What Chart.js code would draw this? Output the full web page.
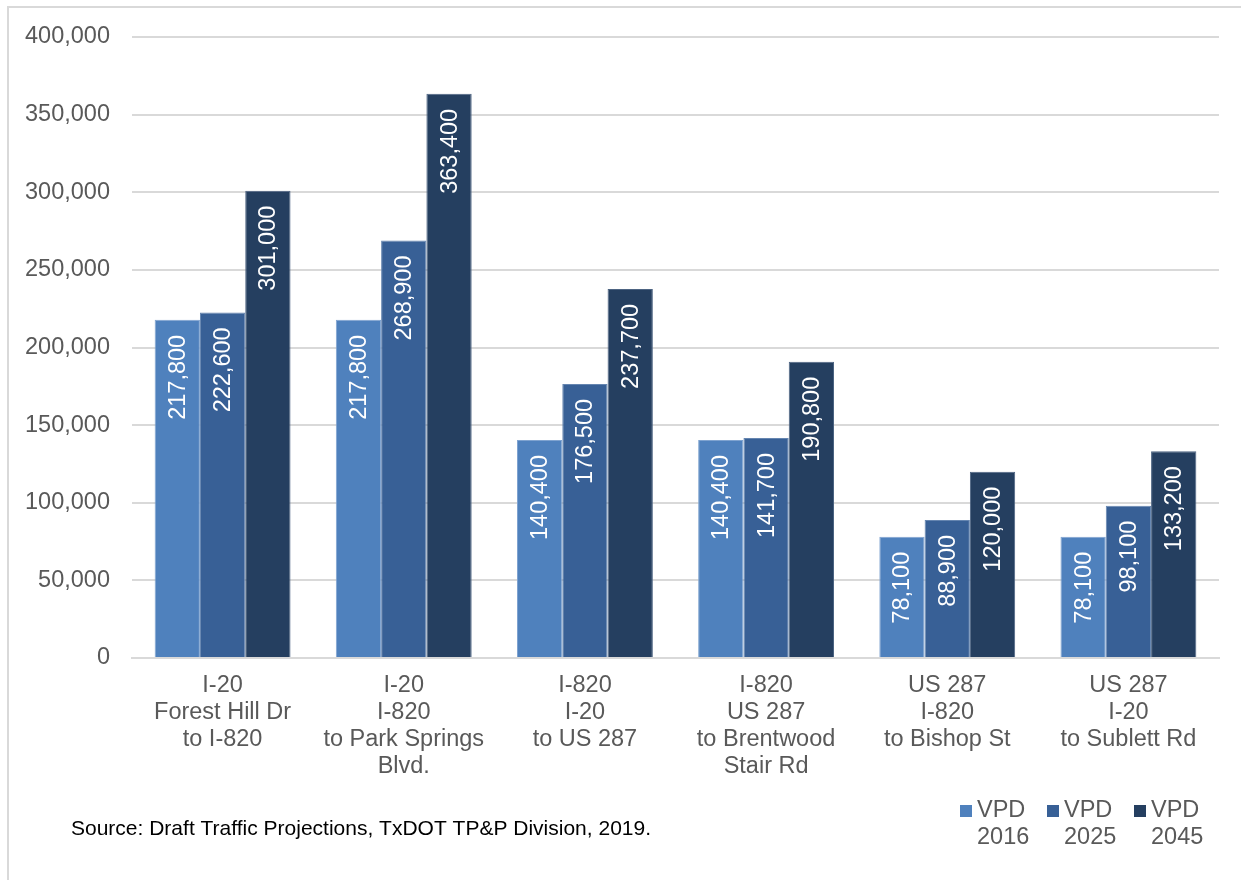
<!DOCTYPE html>
<html>
<head>
<meta charset="utf-8">
<script src="https://cdn.jsdelivr.net/npm/chart.js@4.4.0/dist/chart.umd.min.js"></script>
<style>
  html, body { margin: 0; padding: 0; background: #fff; }
  #wrap { width: 1241px; height: 880px; position: relative; }
</style>
</head>
<body>
<div id="wrap"><canvas id="barChart" width="1241" height="880"></canvas></div>
<script>
const categories = [
  ['I-20', 'Forest Hill Dr', 'to I-820'],
  ['I-20', 'I-820', 'to Park Springs', 'Blvd.'],
  ['I-820', 'I-20', 'to US 287'],
  ['I-820', 'US 287', 'to Brentwood', 'Stair Rd'],
  ['US 287', 'I-820', 'to Bishop St'],
  ['US 287', 'I-20', 'to Sublett Rd']
];
const vpd2016 = [217800, 217800, 140400, 140400, 78100, 78100];
const vpd2025 = [222600, 268900, 176500, 141700, 88900, 98100];
const vpd2045 = [301000, 363400, 237700, 190800, 120000, 133200];
const seriesNames = [['VPD', '2016'], ['VPD', '2025'], ['VPD', '2045']];
const sourceNote = 'Source: Draft Traffic Projections, TxDOT TP&P Division, 2019.';

const colors = ['#4f81bd', '#386096', '#253f60'];
const edges = ['#7fa3d0', '#6585b0', '#4d6482'];
const fontFamily = '"Liberation Sans", Arial, sans-serif';
const fontSize = 23.5;

// white rotated labels inside top of each bar
const barLabels = {
  id: 'barLabels',
  afterDatasetsDraw(chart) {
    const ctx = chart.ctx;
    ctx.save();
    ctx.fillStyle = '#ffffff';
    ctx.font = fontSize + 'px ' + fontFamily;
    ctx.textAlign = 'right';
    ctx.textBaseline = 'middle';
    chart.data.datasets.forEach((ds, i) => {
      chart.getDatasetMeta(i).data.forEach((bar, j) => {
        ctx.save();
        ctx.translate(bar.x, bar.y + 15);
        ctx.rotate(-Math.PI / 2);
        ctx.fillText(ds.data[j].toLocaleString('en-US'), 0, 1);
        ctx.restore();
      });
    });
    ctx.restore();
  }
};

// outer frame, legend and source note
const extras = {
  id: 'extras',
  beforeDraw(chart) {
    const ctx = chart.ctx;
    ctx.save();
    ctx.strokeStyle = '#d9d9d9';
    ctx.lineWidth = 2;
    ctx.strokeRect(8, 7, 1250, 900);
    ctx.restore();
  },
  afterDraw(chart) {
    const ctx = chart.ctx;
    ctx.save();
    ctx.font = '21px ' + fontFamily;
    ctx.fillStyle = '#000000';
    ctx.textBaseline = 'middle';
    ctx.fillText(sourceNote, 71, 829);

    ctx.font = fontSize + 'px ' + fontFamily;
    const startX = [960, 1047, 1134];
    seriesNames.forEach((name, i) => {
      ctx.fillStyle = colors[i];
      ctx.fillRect(startX[i], 805, 12, 12);
      ctx.fillStyle = '#595959';
      ctx.textAlign = 'left';
      ctx.fillText(name[0], startX[i] + 17, 811);
      ctx.fillText(name[1], startX[i] + 17, 838);
    });
    ctx.restore();
  }
};

const chartElement = document.getElementById('barChart').getContext('2d');

const barChart = new Chart(chartElement, {
  type: 'bar',
  data: {
    labels: categories,
    datasets: [
      { label: 'VPD 2016', data: vpd2016, backgroundColor: colors[0], borderColor: edges[0], borderWidth: 1 },
      { label: 'VPD 2025', data: vpd2025, backgroundColor: colors[1], borderColor: edges[1], borderWidth: 1 },
      { label: 'VPD 2045', data: vpd2045, backgroundColor: colors[2], borderColor: edges[2], borderWidth: 1 }
    ]
  },
  options: {
    responsive: false,
    animation: false,
    devicePixelRatio: 1,
    categoryPercentage: 0.75,
    barPercentage: 1.0,
    layout: {
      padding: { left: 0, top: 37, right: 22, bottom: 0 }
    },
    scales: {
      x: {
        grid: { display: false, drawTicks: false },
        border: { color: '#d9d9d9', width: 2 },
        ticks: {
          color: '#595959',
          font: { size: fontSize, family: fontFamily, lineHeight: 1.15 },
          padding: 14,
          maxRotation: 0,
          autoSkip: false
        },
        afterFit(scale) { scale.height = 222; }
      },
      y: {
        min: 0,
        max: 400000,
        grid: { color: '#d9d9d9', lineWidth: 2, drawTicks: false },
        border: { display: false },
        ticks: {
          stepSize: 50000,
          color: '#595959',
          font: { size: fontSize, family: fontFamily },
          padding: 22,
          callback: v => v.toLocaleString('en-US')
        },
        afterFit(scale) { scale.width = 132; }
      }
    },
    plugins: {
      legend: { display: false },
      tooltip: { enabled: false }
    }
  },
  plugins: [barLabels, extras]
});
</script>
</body>
</html>
